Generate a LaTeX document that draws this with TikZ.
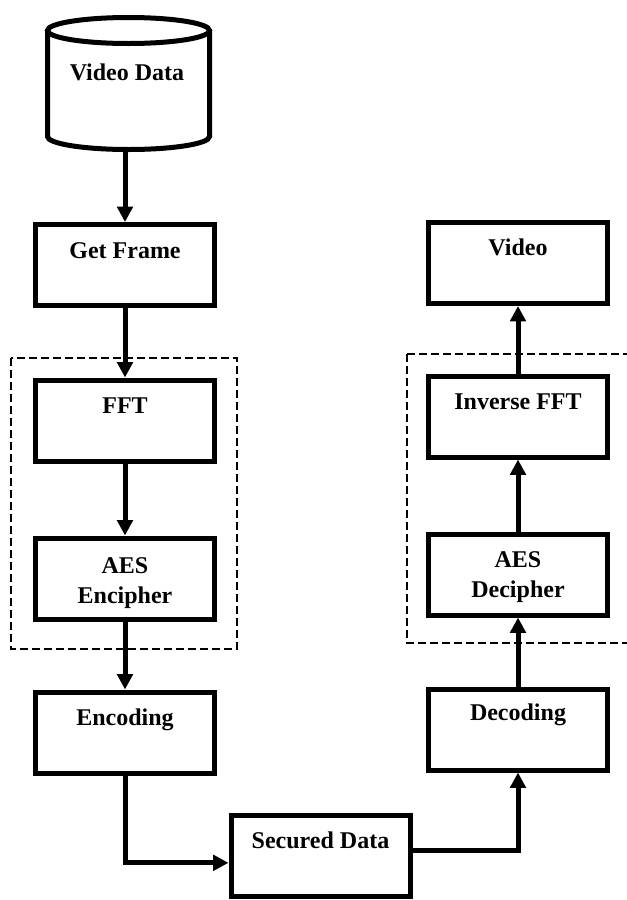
\documentclass[tikz,border=0pt]{standalone}
\usepackage{fontspec}
\setmainfont{Liberation Serif}
\usetikzlibrary{arrows.meta,calc}
\begin{document}
\begin{tikzpicture}[x=0.75pt,y=-0.75pt,
  box/.style={draw,line width=3.75pt,minimum width=134.25pt,minimum height=60.75pt,inner sep=0pt},
  lbl/.style={font=\fontsize{18}{22.5}\selectfont\bfseries,inner sep=0pt,anchor=base,align=center},
  flow/.style={line width=3.75pt,-{Triangle[length=11.5pt,width=11.5pt]}},
  group/.style={draw,line width=1.5pt,dash pattern=on 6pt off 3pt}]
\useasboundingbox (0,0) rectangle (627,900);
\clip (0,0) rectangle (627,900);

% storage cylinder for the source video
\draw[line width=3.75pt] (47.5,30.5) -- (47.5,136.5)
  arc[start angle=180,end angle=360,x radius=60.75pt,y radius=9.75pt] -- (209.5,30.5);
\draw[line width=3.75pt] (128.5,30.5) ellipse[x radius=60.75pt,y radius=9.75pt];
\node[minimum width=125.25pt,minimum height=102.75pt,inner sep=0pt,outer sep=0pt] (data) at (128.5,83.5) {};
\node[lbl] (datal) at (127,80) {Video Data};

% sender side
\node[box] (frame)  at (125,265)   {};
\node[box] (fft)    at (125,420.5) {};
\node[box] (enc)    at (125,578.5) {};
\node[box] (encode) at (125,732.5) {};

% channel
\node[box] (secured) at (320.5,855.5) {};

% receiver side
\node[box] (video)  at (518,263)   {};
\node[box] (ifft)   at (518,416.5) {};
\node[box] (dec)    at (518,574.5) {};
\node[box] (decode) at (518,729.5) {};

% labels (base anchor sits on the last line)
\node[lbl] (framel)   at ($(frame.north)+(0,36)$)   {Get Frame};
\node[lbl] (fftl)     at ($(fft.north)+(0,36)$)     {FFT};
\node[lbl] (encl)     at ($(enc.north)+(0,68)$)     {AES\\Encipher};
\node[lbl] (encodel)  at ($(encode.north)+(0,36)$)  {Encoding};
\node[lbl] (securedl) at ($(secured.north)+(0,36)$) {Secured Data};
\node[lbl] (videol)   at ($(video.north)+(0,35)$)   {Video};
\node[lbl] (ifftl)    at ($(ifft.north)+(0,36)$)    {Inverse FFT};
\node[lbl] (decl)     at ($(dec.north)+(0,66)$)     {AES\\Decipher};
\node[lbl] (decodel)  at ($(decode.north)+(0,34)$)  {Decoding};

% transform/cipher groups
\draw[group] (11,358) rectangle (237,649);
\draw[group] (407,354) rectangle (650,643);

% flow
\draw[flow] (data.south -| frame.north) -- (frame.north);
\draw[flow] (frame.south) -- (fft.north);
\draw[flow] (fft.south) -- (enc.north);
\draw[flow] (enc.south) -- (encode.north);
\draw[flow] (encode.south) |- ([yshift=-5.5pt]secured.west);
\draw[flow] ([yshift=4pt]secured.east) -| (decode.south);
\draw[flow] (decode.north) -- (dec.south);
\draw[flow] (dec.north) -- (ifft.south);
\draw[flow] (ifft.north) -- (video.south);
\end{tikzpicture}
\end{document}
